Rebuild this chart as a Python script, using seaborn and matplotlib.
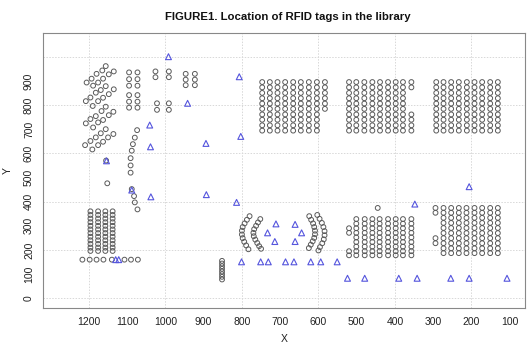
import matplotlib
matplotlib.use("Agg")
import matplotlib.pyplot as plt
import seaborn as sns
import pandas as pd
from itertools import product

# --- book shelves (circles), irregular parts read point by point ---
diag_x = [1206, 1193, 1180, 1165, 1156, 1189, 1176, 1163, 1148, 1135,
          1208, 1196, 1182, 1169, 1156, 1190, 1176, 1163, 1148, 1135,
          1208, 1196, 1182, 1167, 1156, 1189, 1176, 1163, 1148, 1136,
          1210, 1196, 1182, 1169, 1156, 1191, 1176, 1163, 1150, 1136]
diag_y = [893, 909, 929, 943, 961, 880, 893, 909, 927, 939,
          816, 831, 851, 862, 878, 796, 816, 830, 845, 865,
          724, 742, 754, 775, 793, 707, 728, 738, 758, 772,
          634, 651, 666, 683, 700, 616, 634, 648, 666, 680]

misc_x = [1155, 1152,
          1095, 1095, 1095, 1095, 1095, 1095, 1073, 1073, 1073, 1073, 1073, 1073,
          1074, 1080, 1085, 1088, 1091, 1091, 1091, 1088, 1082, 1080, 1073,
          1026, 1026, 991, 991, 1022, 1022, 991, 991,
          947, 947, 947, 923, 923, 923,
          1217, 1198, 1180, 1162, 1140, 1107, 1090, 1072,
          852, 852, 852, 852, 852, 852, 852, 852,
          445]
misc_y = [570, 476,
          935, 907, 880, 841, 814, 789, 935, 907, 880, 841, 814, 789,
          696, 665, 638, 611, 580, 550, 520, 452, 423, 397, 368,
          939, 915, 939, 915, 807, 780, 807, 780,
          929, 905, 882, 929, 905, 882,
          160, 160, 160, 160, 160, 160, 160, 160,
          155, 144, 133, 122, 111, 100, 89, 78,
          374]

arc_x = [780, 787, 793, 798, 800, 800, 798, 794, 789, 783,
         752, 758, 763, 768, 770, 769, 765, 760, 755, 750,
         624, 619, 614, 611, 609, 609, 611, 615, 620, 625,
         603, 597, 591, 587, 584, 584, 586, 590, 596, 600]
arc_y = [340, 325, 310, 295, 280, 264, 249, 234, 219, 203,
         328, 314, 300, 286, 271, 257, 243, 229, 216, 205,
         340, 325, 310, 295, 280, 265, 250, 236, 222, 208,
         345, 329, 312, 295, 278, 261, 244, 228, 212, 198]

# --- rectangular stacks: column positions and row positions ---
top_rows = [895, 873, 850, 828, 806, 784, 761, 739, 716, 694]
stackA_cols = [747, 727, 707, 687, 666, 646, 625, 604]
stackA_short_col = [583]
stackA_short_rows = [895, 873, 850, 828, 806, 784]
stackB_cols = [520, 501, 480, 459, 439, 418, 398, 379]
stackB_gap_col = [357]
stackB_gap_rows = [895, 873, 761, 739, 716, 694]
stackC_cols = [292, 273, 253, 233, 212, 192, 172, 151, 131]

stackD_cols = [501, 479, 459, 440, 418, 398, 379, 357]
stackD_rows = [328, 309, 290, 271, 252, 233, 214, 195, 178]
stackD_gap_col = [520]
stackD_gap_rows = [290, 271, 195, 178]
stackE_cols = [273, 253, 233, 213, 192, 172, 151, 131]
stackE_rows = [374, 354, 333, 312, 291, 270, 249, 228, 207, 187]
stackE_gap_col = [294]
stackE_gap_rows = [374, 354, 249, 228]

stackF_cols = [1196, 1176, 1157, 1138]
stackF_rows = [360, 345, 330, 315, 300, 285, 270, 255, 240, 225, 210, 196]

# --- RFID readers (triangles) ---
tri_x = [992, 807, 942, 1041, 1039, 894, 803, 1154, 1088, 1038, 893, 814, 1130, 1122,
         711, 661, 733, 644, 714, 661,
         801, 751, 731, 686, 664, 620, 594, 551,
         524, 479, 390, 342, 254, 206, 107,
         348, 206]
tri_y = [1000, 917, 807, 717, 627, 641, 670, 569, 448, 420, 429, 397, 160, 160,
         308, 306, 271, 271, 235, 235,
         151, 151, 151, 151, 151, 151, 151, 151,
         83, 83, 83, 83, 83, 83, 83,
         390, 462]

x_ticks = [1200, 1100, 1000, 900, 800, 700, 600, 500, 400, 300, 200, 100]
y_ticks = [0, 100, 200, 300, 400, 500, 600, 700, 800, 900, 1000]
y_tick_labels = ["0", "100", "200", "300", "400", "500", "600", "700", "800", "900", ""]
x_grid = [1200, 1000, 800, 600, 400, 200]
y_grid = [0, 200, 400, 600, 800, 1000]

grids = [(stackA_cols, top_rows), (stackA_short_col, stackA_short_rows),
         (stackB_cols, top_rows), (stackB_gap_col, stackB_gap_rows),
         (stackC_cols, top_rows),
         (stackD_cols, stackD_rows), (stackD_gap_col, stackD_gap_rows),
         (stackE_cols, stackE_rows), (stackE_gap_col, stackE_gap_rows),
         (stackF_cols, stackF_rows)]
grid_pts = [p for cols, rows in grids for p in product(cols, rows)]

tags = pd.DataFrame({
    "x": diag_x + misc_x + arc_x + [p[0] for p in grid_pts],
    "y": diag_y + misc_y + arc_y + [p[1] for p in grid_pts],
})
readers = pd.DataFrame({"x": tri_x, "y": tri_y})

sns.set_style("white")
plt.rcParams["font.family"] = ["Liberation Sans", "DejaVu Sans"]

fig = plt.figure(figsize=(5.29, 3.45), dpi=100)
ax = fig.add_axes([43 / 529, 37.5 / 345, 482 / 529, 274.5 / 345])

# light dotted reference grid, as in the original
for gx in x_grid:
    ax.axvline(gx, color="#d8d8d8", linestyle=(0, (1.5, 1.5)), linewidth=0.7, zorder=0)
for gy in y_grid:
    ax.axhline(gy, color="#d8d8d8", linestyle=(0, (1.5, 1.5)), linewidth=0.7, zorder=0)

sns.scatterplot(data=tags, x="x", y="y", ax=ax, marker="o", s=12,
                facecolors="none", edgecolor="#5a5a5a", linewidth=0.7, zorder=2)
sns.scatterplot(data=readers, x="x", y="y", ax=ax, marker="^", s=18,
                facecolors="none", edgecolor="#5555dd", linewidth=0.8, zorder=3)

ax.set_xlim(1320, 60)
ax.set_ylim(-38, 1098)
ax.set_xticks(x_ticks)
ax.set_yticks(y_ticks)
ax.set_yticklabels(y_tick_labels, rotation=90, va="center")
ax.tick_params(axis="both", length=4, width=0.6, color="#666666",
               labelsize=7.5, labelcolor="#222222", pad=3)
ax.tick_params(axis="y", pad=2.5)

for sp in ax.spines.values():
    sp.set_color("#888888")
    sp.set_linewidth(0.8)

ax.set_xlabel("X", fontsize=7.5, color="#222222")
ax.set_ylabel("Y", fontsize=7.5, color="#222222")
ax.xaxis.set_label_coords(0.5, -0.095)
ax.yaxis.set_label_coords(-0.062, 0.5)
fig.text(0.545, 0.952, "FIGURE1. Location of RFID tags in the library",
         ha="center", va="center", fontsize=8.2, fontweight="bold", color="#111111")

fig.savefig("out.png", dpi=100)
